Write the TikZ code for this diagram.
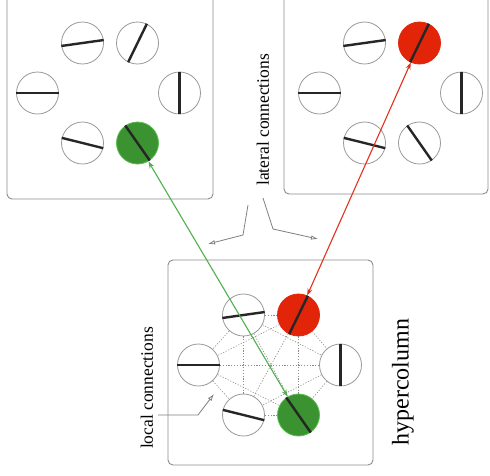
\documentclass[tikz,border=0pt]{standalone}
\usepackage{fontspec}
\setmainfont{Liberation Serif}
\usetikzlibrary{arrows.meta,calc}

\definecolor{cellred}{RGB}{226,36,8}
\definecolor{cellgreen}{RGB}{58,146,48}
\definecolor{greenrim}{RGB}{90,190,80}
\definecolor{linkgreen}{RGB}{80,175,80}
\definecolor{linkred}{RGB}{224,50,30}

\tikzset{
  panel/.style={draw=black!45, line width=0.9pt, rounded corners=5pt},
  cell/.style={circle, draw=black!40, line width=0.8pt, fill=white,
    minimum size=42pt, inner sep=0pt},
  plaincell/.style={cell},
  redcell/.style={cell, draw=cellred, fill=cellred},
  greencell/.style={cell, draw=greenrim, fill=cellgreen},
  bar/.style={line width=2.4pt, black!85},
  locallink/.style={black!45, line width=0.6pt, dash pattern=on 1.2pt off 1.6pt},
  lateral/.style={black!50, line width=0.8pt,
    -{Latex[open, length=7pt, width=4.5pt]}},
  greenlink/.style={linkgreen, line width=1.1pt,
    {Stealth[length=7pt, width=5pt]}-{Stealth[length=7pt, width=5pt]}},
  redlink/.style={linkred, line width=1.1pt,
    {Stealth[length=7pt, width=5pt]}-{Stealth[length=7pt, width=5pt]}},
  label/.style={rotate=90, inner sep=0pt, font=\fontsize{17.5}{20}\selectfont},
}

% six orientation-tuned cells around a centre point
% #1 name prefix, #2 centre, #3 style of cell 2, #4 style of cell 6
\newcommand\orientcells[4]{%
  \foreach \i/\dx/\dy/\a/\b/\s in {1/-27/-50/8/188/plaincell,
                                  2/28/-50/64/244/#3,
                                  3/-72/0/0/180/plaincell,
                                  4/70/0/90/270/plaincell,
                                  5/-27/50/346/166/plaincell,
                                  6/28/50/305/125/#4}{
    \node[\s] (#1\i) at ($(#2)+(\dx,\dy)$) {};
    \draw[bar] (#1\i.\a) -- (#1\i.\b);
  }%
}

\begin{document}
\begin{tikzpicture}[x=1pt, y=-1pt]
  \clip (0,0) rectangle (490,475);
  \fill[white] (0,0) rectangle (490,475);

  % panels
  \draw[panel] (7,-20) rectangle (213,199);
  \draw[panel] (284,-20) rectangle (488,194);
  \draw[panel] (168,260) rectangle (373,465);

  \coordinate (ctrA) at (109.5,93);
  \coordinate (ctrB) at (391.5,93);
  \coordinate (ctrC) at (270.5,365);

  \orientcells{a}{ctrA}{plaincell}{greencell}
  \orientcells{b}{ctrB}{redcell}{plaincell}
  \orientcells{c}{ctrC}{redcell}{greencell}

  % local connections inside the hypercolumn
  \foreach \i in {1,...,5}{
    \pgfmathtruncatemacro\first{\i+1}
    \foreach \j in {\first,...,6}{
      \draw[locallink] (c\i) -- (c\j);
    }
  }

  % long-range links between matching orientations
  \draw[greenlink] (a6) -- (c6);
  \draw[redlink] (b2) -- (c2);

  % labels
  \node[label] (lat) at (263,120) {lateral connections};
  \node[label] (loc) at (147,388) {local connections};
  \node[rotate=90, inner sep=0pt, font=\fontsize{24}{28}\selectfont]
    (hyp) at (403,382) {hypercolumn};

  % pointers
  \coordinate (latL0) at (248,205);
  \coordinate (latL1) at (243,235);
  \coordinate (latL2) at (208,244);
  \coordinate (latR0) at (263,198);
  \coordinate (latR1) at (273,229);
  \coordinate (latR2) at (318,239);
  \draw[lateral] (latL0) -- (latL1) -- (latL2);
  \draw[lateral] (latR0) -- (latR1) -- (latR2);

  \coordinate (loc0) at (158,415);
  \coordinate (loc1) at (198,415);
  \coordinate (loc2) at (214,394);
  \draw[lateral] (loc0) -- (loc1) -- (loc2);
\end{tikzpicture}
\end{document}
